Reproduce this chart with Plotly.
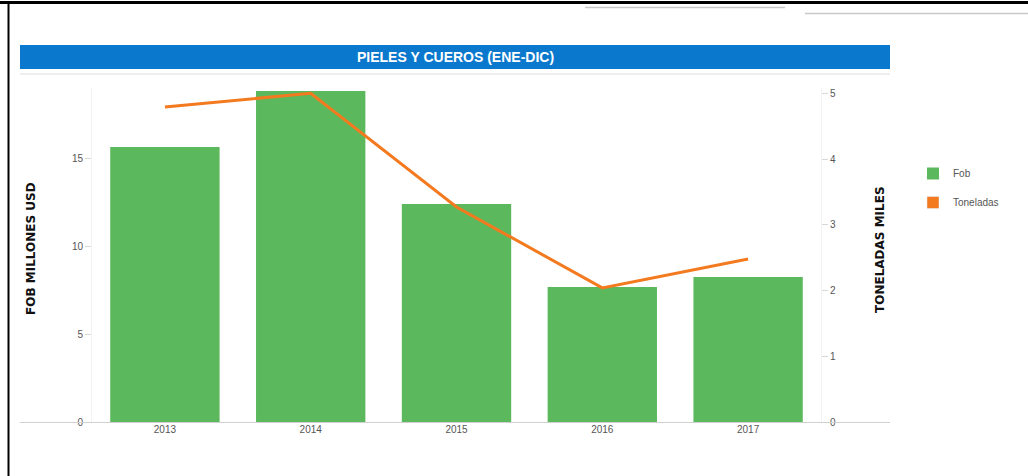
import plotly.graph_objects as go

years = ["2013", "2014", "2015", "2016", "2017"]
fob = [15.65, 18.83, 12.4, 7.68, 8.25]
toneladas = [4.79, 5.0, 3.27, 2.04, 2.48]
left_ticks = [0, 5, 10, 15]
right_ticks = [0, 1, 2, 3, 4, 5]

W, H = 1028, 476
L, R, T, B = 92, 821, 88, 422  # plot area in pixels


def px(x):
    return (x - L) / (R - L)


def py(y):
    return (B - y) / (B - T)


GREEN = "#5cb85c"
ORANGE = "#f47a20"
NARROW = "Liberation Sans Narrow, Liberation Sans, Arial"
TICKFONT = dict(family=NARROW, size=10, color="#555")

fig = go.Figure()
fig.add_trace(go.Bar(x=years, y=fob, name="Fob", marker=dict(color=GREEN, line=dict(width=0)),
                     legendgroup="a"))
fig.add_trace(go.Scatter(x=years, y=toneladas, name="Toneladas", mode="lines", yaxis="y2",
                         line=dict(color=ORANGE, width=3), showlegend=False))
fig.add_trace(go.Bar(x=[None], y=[None], name="Toneladas", marker=dict(color=ORANGE),
                     legendgroup="b", showlegend=True))

shapes = [
    # title bar
    dict(type="rect", xref="paper", yref="paper", x0=px(20), x1=px(890), y0=py(69), y1=py(45),
         fillcolor="#0a78cc", line=dict(width=0), layer="below"),
    dict(type="line", xref="paper", yref="paper", x0=px(20), x1=px(890), y0=py(74), y1=py(74),
         line=dict(color="#dddddd", width=1)),
    # baseline
    dict(type="line", xref="paper", yref="paper", x0=px(20), x1=px(890), y0=py(422.5), y1=py(422.5),
         line=dict(color="#d0d0d0", width=1)),
    # frame
    dict(type="line", xref="paper", yref="paper", x0=px(0), x1=px(1028), y0=py(2.5), y1=py(2.5),
         line=dict(color="#000", width=3)),
    dict(type="line", xref="paper", yref="paper", x0=px(8.5), x1=px(8.5), y0=py(1), y1=py(476),
         line=dict(color="#000", width=2)),
    # top gray lines
    dict(type="line", xref="paper", yref="paper", x0=px(585), x1=px(785), y0=py(7.5), y1=py(7.5),
         line=dict(color="#c8c8c8", width=1.5)),
    dict(type="line", xref="paper", yref="paper", x0=px(805), x1=px(1028), y0=py(13.5), y1=py(13.5),
         line=dict(color="#c8c8c8", width=1.5)),
]

annotations = [
    dict(text="<b>PIELES Y CUEROS (ENE-DIC)</b>", xref="paper", yref="paper", x=px(455), y=py(57),
         showarrow=False, xanchor="center", yanchor="middle",
         font=dict(family=NARROW, size=14, color="white")),
    dict(text="<b>FOB MILLONES USD</b>", xref="paper", yref="paper", x=px(31), y=py(249),
         showarrow=False, textangle=-90, xanchor="center", yanchor="middle",
         font=dict(family="DejaVu Sans", size=12, color="#111")),
    dict(text="<b>TONELADAS MILES</b>", xref="paper", yref="paper", x=px(880), y=py(249),
         showarrow=False, textangle=-90, xanchor="center", yanchor="middle",
         font=dict(family="DejaVu Sans", size=12, color="#111")),
]

fig.update_layout(
    width=W, height=H,
    margin=dict(l=L, r=W - R, t=T, b=H - B, pad=0),
    paper_bgcolor="white", plot_bgcolor="white",
    barmode="overlay", bargap=0.25,
    showlegend=True,
    legend=dict(x=px(913), y=py(159), xanchor="left", yanchor="top", itemwidth=30,
                font=dict(family=NARROW, size=10, color="#555"),
                tracegroupgap=10, traceorder="grouped", bgcolor="rgba(0,0,0,0)"),
    xaxis=dict(type="category", categoryorder="array", categoryarray=years, showgrid=False,
               zeroline=False, showline=False, ticks="", tickfont=TICKFONT),
    yaxis=dict(range=[0, 19], tickvals=left_ticks, showgrid=False, zeroline=False,
               showline=True, linecolor="#f2f2f2", ticks="outside", ticklen=6, tickcolor="#d8d8d8",
               tickfont=TICKFONT),
    yaxis2=dict(range=[0, 5.08], tickvals=right_ticks, overlaying="y", side="right",
                showgrid=False, zeroline=False, showline=True, linecolor="#f2f2f2",
                ticks="outside", ticklen=6, tickcolor="#d8d8d8", tickfont=TICKFONT),
    shapes=shapes,
    annotations=annotations,
)

fig.write_html("out.html")
